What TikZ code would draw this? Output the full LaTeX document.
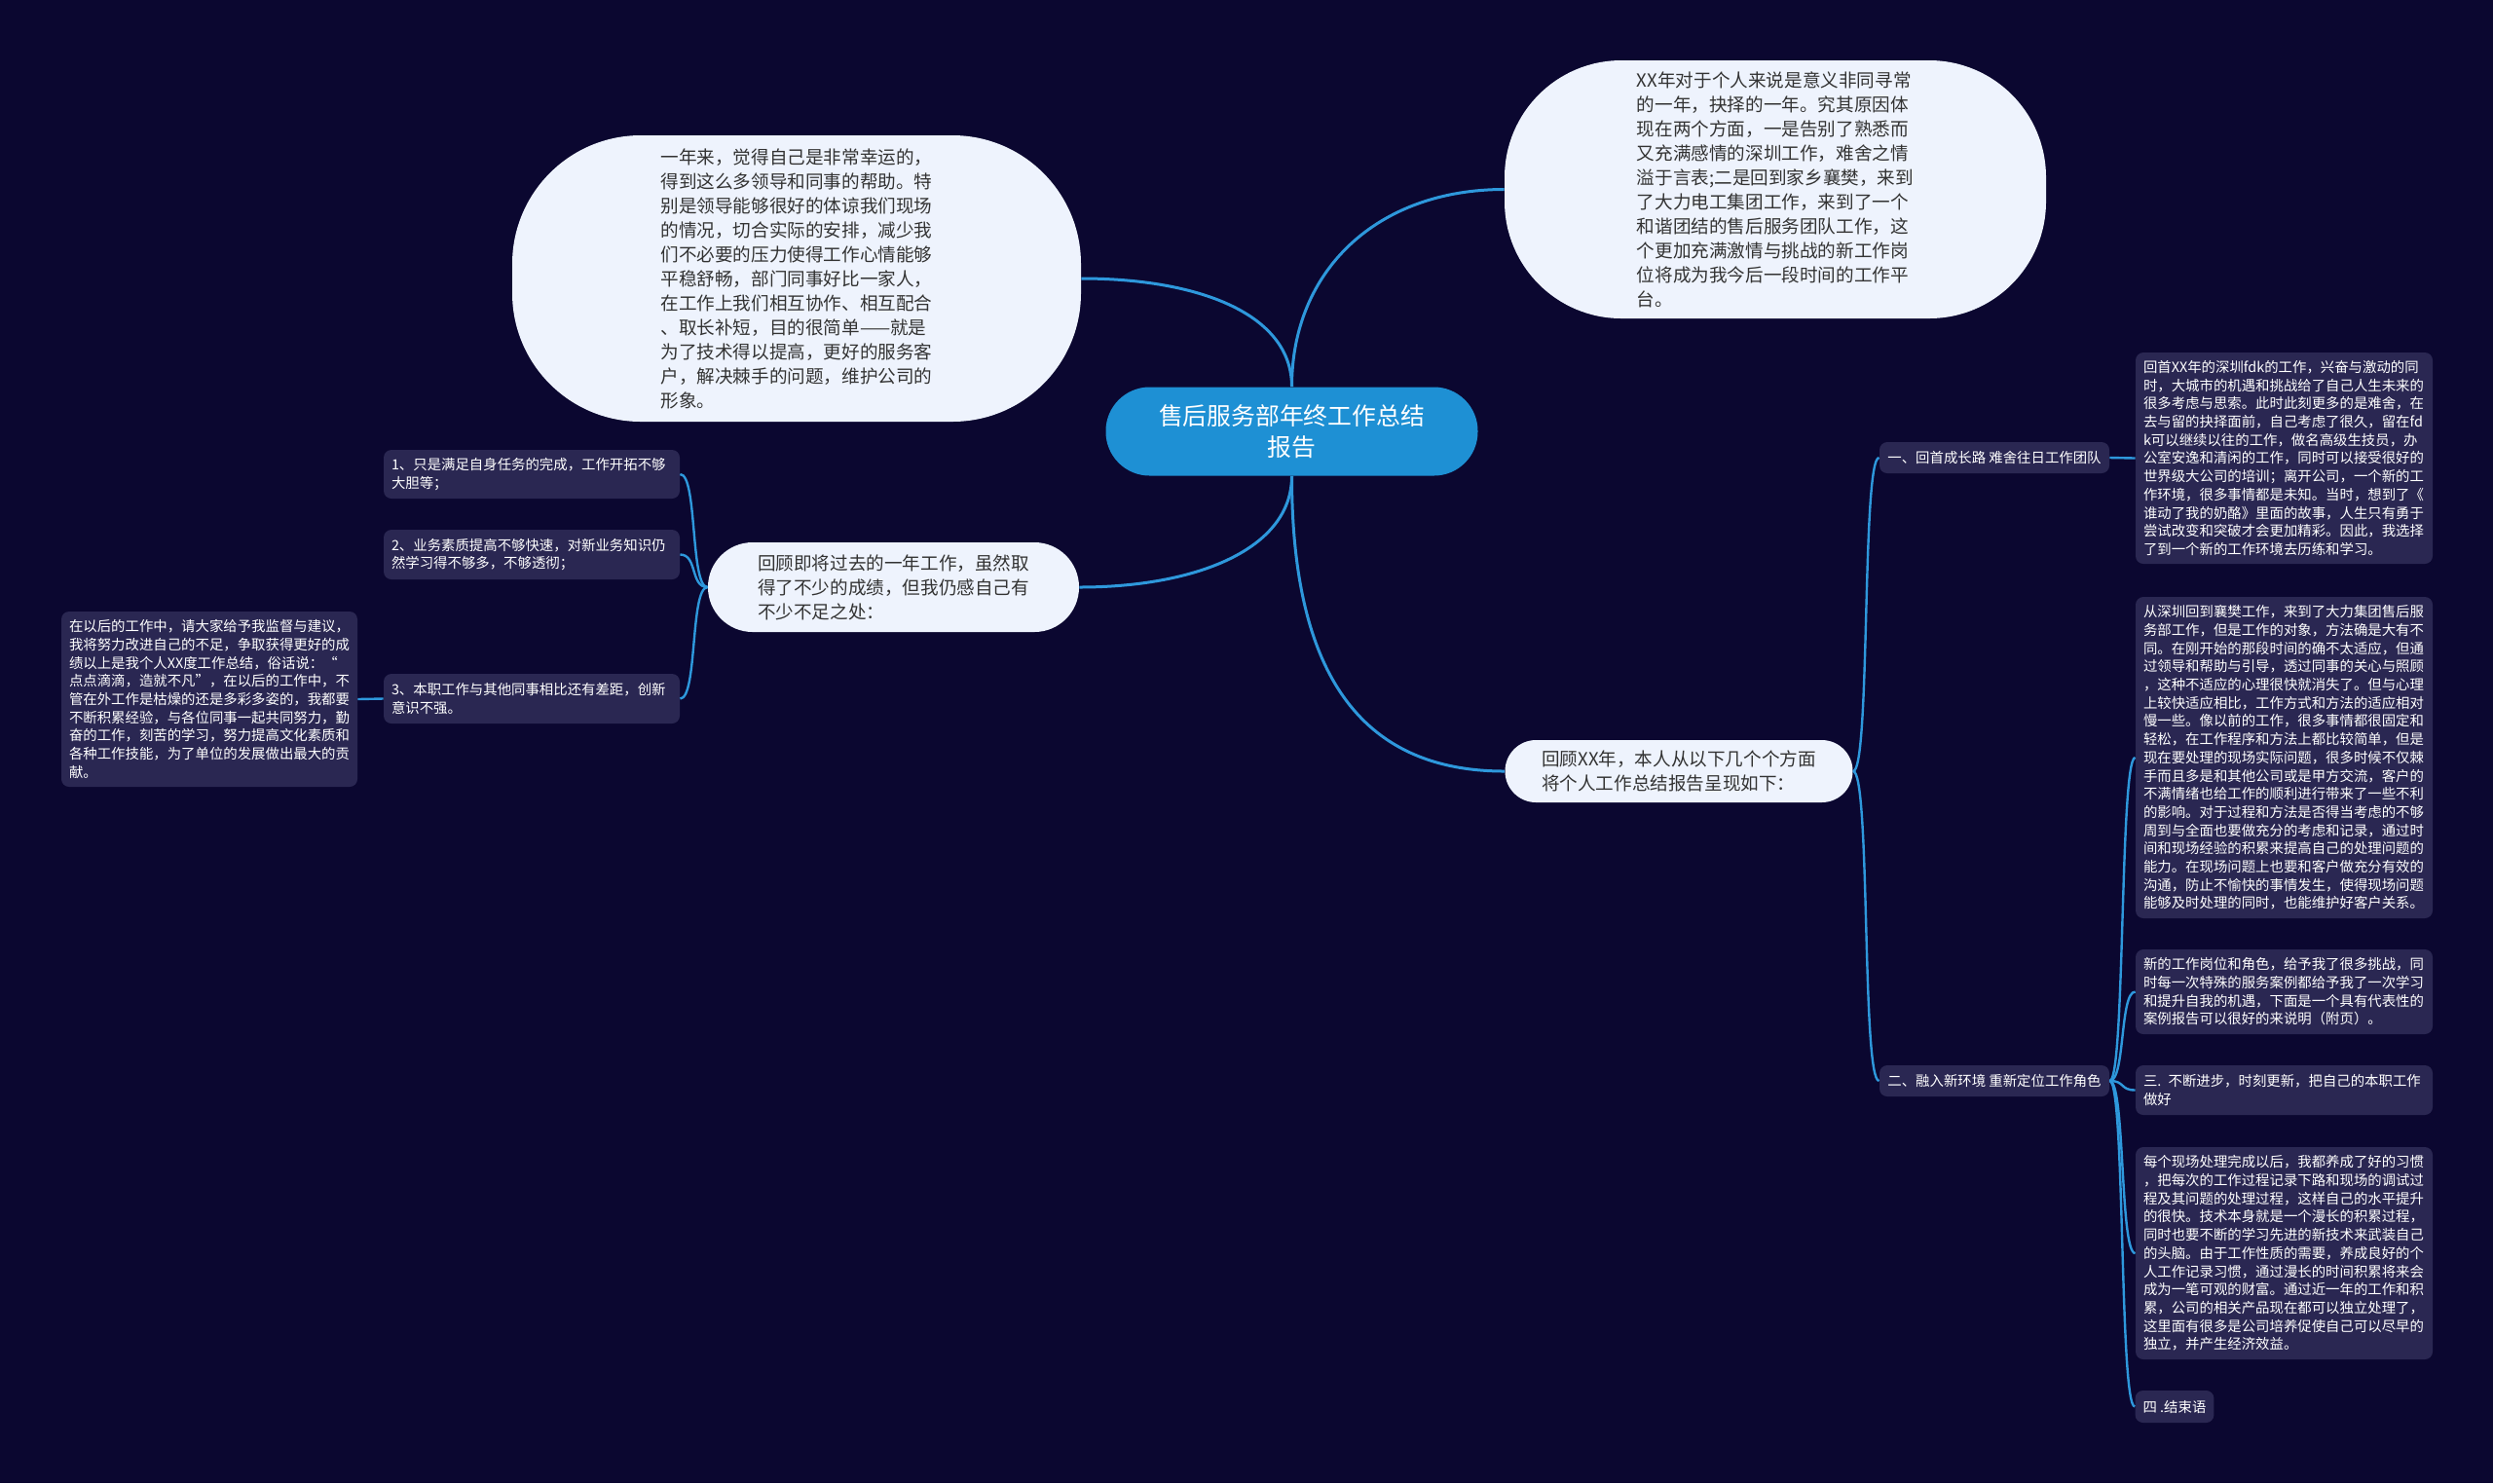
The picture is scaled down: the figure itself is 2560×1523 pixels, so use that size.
\documentclass[tikz,border=0pt]{standalone}
\usepackage{fontspec}
\setmainfont{Noto Sans CJK SC}
\definecolor{bg}{RGB}{11,7,48}
\definecolor{pillfill}{RGB}{238,243,253}
\definecolor{pilltext}{RGB}{51,51,51}
\definecolor{boxfill}{RGB}{42,39,82}
\definecolor{centrefill}{RGB}{30,144,212}
\definecolor{edgeblue}{RGB}{46,152,220}
\tikzset{
  pill/.style={fill=pillfill, text=pilltext, align=left, inner sep=0pt,
    font=\fontsize{9.3pt}{12.5pt}\selectfont},
  centre/.style={fill=centrefill, text=white, align=center, inner sep=0pt,
    font=\fontsize{12.4pt}{16.3pt}\selectfont},
  dbox/.style={fill=boxfill, text=white, align=left, rounded corners=4pt,
    inner xsep=4pt, inner ysep=0pt, font=\fontsize{7.2pt}{9.35pt}\selectfont},
  conn/.style={draw=edgeblue, line width=1.5pt},
  branch/.style={draw=edgeblue, line width=1.2pt},
}
\begin{document}
\begin{tikzpicture}[x=0.5pt,y=-0.5pt]
\fill[bg] (0,0) rectangle (2560,1523);
\useasboundingbox (0,0) rectangle (2560,1523);

% centre
\node[centre, minimum width=191pt, minimum height=45.5pt, rounded corners=22.5pt] (C) at (1326.5,443)
  {售后服务部年终工作总结\\报告};

% top-left bubble
\node[pill, minimum width=292pt, minimum height=147pt, rounded corners=66pt] (TL) at (818,286)
  {一年来，觉得自己是非常幸运的，\\
   得到这么多领导和同事的帮助。特\\
   别是领导能够很好的体谅我们现场\\
   的情况，切合实际的安排，减少我\\
   们不必要的压力使得工作心情能够\\
   平稳舒畅，部门同事好比一家人，\\
   在工作上我们相互协作、相互配合\\
   、取长补短，目的很简单——就是\\
   为了技术得以提高，更好的服务客\\
   户，解决棘手的问题，维护公司的\\
   形象。};

% top-right bubble
\node[pill, minimum width=278pt, minimum height=132.5pt, rounded corners=60pt] (TR) at (1823,194.5)
  {XX年对于个人来说是意义非同寻常\\
   的一年，抉择的一年。究其原因体\\
   现在两个方面，一是告别了熟悉而\\
   又充满感情的深圳工作，难舍之情\\
   溢于言表;二是回到家乡襄樊，来到\\
   了大力电工集团工作，来到了一个\\
   和谐团结的售后服务团队工作，这\\
   个更加充满激情与挑战的新工作岗\\
   位将成为我今后一段时间的工作平\\
   台。};

% middle-left
\node[pill, minimum width=190.5pt, minimum height=46pt, rounded corners=22.9pt] (ML) at (917.5,603)
  {回顾即将过去的一年工作，虽然取\\
   得了不少的成绩，但我仍感自己有\\
   不少不足之处：};

% middle-right
\node[pill, minimum width=178.5pt, minimum height=32pt, rounded corners=15.9pt] (MR) at (1724,792)
  {回顾XX年，本人从以下几个个方面\\
   将个人工作总结报告呈现如下：};

% left small nodes
\node[dbox, text width=144pt, minimum height=25pt] (L1) at (546,487)
  {1、只是满足自身任务的完成，工作开拓不够\\大胆等；};
\node[dbox, text width=144pt, minimum height=25.5pt] (L2) at (546,569.5)
  {2、业务素质提高不够快速，对新业务知识仍\\然学习得不够多，不够透彻；};
\node[dbox, text width=144pt, minimum height=25.5pt] (L3) at (546,717.5)
  {3、本职工作与其他同事相比还有差距，创新\\意识不强。};
\node[dbox, text width=144pt, minimum height=90pt] (FL) at (215,718)
  {在以后的工作中，请大家给予我监督与建议，\\
   我将努力改进自己的不足，争取获得更好的成\\
   绩以上是我个人XX度工作总结，俗话说：“\\
   点点滴滴，造就不凡”，在以后的工作中，不\\
   管在外工作是枯燥的还是多彩多姿的，我都要\\
   不断积累经验，与各位同事一起共同努力，勤\\
   奋的工作，刻苦的学习，努力提高文化素质和\\
   各种工作技能，为了单位的发展做出最大的贡\\
   献。};

% right labels
\node[dbox, align=center, minimum width=118pt, minimum height=16pt] (R1) at (2048,470)
  {一、回首成长路 难舍往日工作团队};
\node[dbox, align=center, minimum width=118pt, minimum height=16pt] (R2) at (2048,1110)
  {二、融入新环境 重新定位工作角色};

% right boxes
\node[dbox, text width=144.5pt, minimum height=108.5pt] (B1) at (2345.5,470.5)
  {回首XX年的深圳fdk的工作，兴奋与激动的同\\
   时，大城市的机遇和挑战给了自己人生未来的\\
   很多考虑与思索。此时此刻更多的是难舍，在\\
   去与留的抉择面前，自己考虑了很久，留在fd\\
   k可以继续以往的工作，做名高级生技员，办\\
   公室安逸和清闲的工作，同时可以接受很好的\\
   世界级大公司的培训；离开公司，一个新的工\\
   作环境，很多事情都是未知。当时，想到了《\\
   谁动了我的奶酪》里面的故事，人生只有勇于\\
   尝试改变和突破才会更加精彩。因此，我选择\\
   了到一个新的工作环境去历练和学习。};
\node[dbox, text width=144.5pt, minimum height=165pt] (BA) at (2345.5,778)
  {从深圳回到襄樊工作，来到了大力集团售后服\\
   务部工作，但是工作的对象，方法确是大有不\\
   同。在刚开始的那段时间的确不太适应，但通\\
   过领导和帮助与引导，透过同事的关心与照顾\\
   ，这种不适应的心理很快就消失了。但与心理\\
   上较快适应相比，工作方式和方法的适应相对\\
   慢一些。像以前的工作，很多事情都很固定和\\
   轻松，在工作程序和方法上都比较简单，但是\\
   现在要处理的现场实际问题，很多时候不仅棘\\
   手而且多是和其他公司或是甲方交流，客户的\\
   不满情绪也给工作的顺利进行带来了一些不利\\
   的影响。对于过程和方法是否得当考虑的不够\\
   周到与全面也要做充分的考虑和记录，通过时\\
   间和现场经验的积累来提高自己的处理问题的\\
   能力。在现场问题上也要和客户做充分有效的\\
   沟通，防止不愉快的事情发生，使得现场问题\\
   能够及时处理的同时，也能维护好客户关系。};
\node[dbox, text width=144.5pt, minimum height=43.5pt] (BB) at (2345.5,1018.5)
  {新的工作岗位和角色，给予我了很多挑战，同\\
   时每一次特殊的服务案例都给予我了一次学习\\
   和提升自我的机遇，下面是一个具有代表性的\\
   案例报告可以很好的来说明（附页）。};
\node[dbox, text width=144.5pt, minimum height=25.5pt] (BC) at (2345.5,1119.5)
  {三. 不断进步，时刻更新，把自己的本职工作\\做好};
\node[dbox, text width=144.5pt, minimum height=109pt] (BD) at (2345.5,1287)
  {每个现场处理完成以后，我都养成了好的习惯\\
   ，把每次的工作过程记录下路和现场的调试过\\
   程及其问题的处理过程，这样自己的水平提升\\
   的很快。技术本身就是一个漫长的积累过程，\\
   同时也要不断的学习先进的新技术来武装自己\\
   的头脑。由于工作性质的需要，养成良好的个\\
   人工作记录习惯，通过漫长的时间积累将来会\\
   成为一笔可观的财富。通过近一年的工作和积\\
   累，公司的相关产品现在都可以独立处理了，\\
   这里面有很多是公司培养促使自己可以尽早的\\
   独立，并产生经济效益。};
\node[dbox, minimum width=40pt, minimum height=16.5pt] (BE) at (2233,1444.5)
  {四 .结束语};

% main connectors
\draw[conn] (C.north) .. controls +(0,-120) and +(-130,0) .. (TR.west);
\draw[conn] (C.north) .. controls +(0,-75) and +(120,0) .. (TL.east);
\draw[conn] (C.south) .. controls +(0,75) and +(120,0) .. (ML.east);
\draw[conn] (C.south) .. controls +(0,200) and +(-150,0) .. (MR.west);

% left branches
\draw[branch] (ML.west) .. controls +(-18,0) and +(18,0) .. (L1.east);
\draw[branch] (ML.west) .. controls +(-18,0) and +(18,0) .. (L2.east);
\draw[branch] (ML.west) .. controls +(-18,0) and +(18,0) .. (L3.east);
\draw[branch] (L3.west) -- (FL.east);

% right branches
\draw[branch] (MR.east) .. controls +(18,0) and +(-18,0) .. (R1.west);
\draw[branch] (MR.east) .. controls +(18,0) and +(-18,0) .. (R2.west);
\draw[branch] (R1.east) -- (B1.west);
\draw[branch] (R2.east) .. controls +(16,0) and +(-16,0) .. (BA.west);
\draw[branch] (R2.east) .. controls +(16,0) and +(-16,0) .. (BB.west);
\draw[branch] (R2.east) .. controls +(16,0) and +(-16,0) .. (BC.west);
\draw[branch] (R2.east) .. controls +(16,0) and +(-16,0) .. (BD.west);
\draw[branch] (R2.east) .. controls +(16,0) and +(-16,0) .. (BE.west);
\end{tikzpicture}
\end{document}
